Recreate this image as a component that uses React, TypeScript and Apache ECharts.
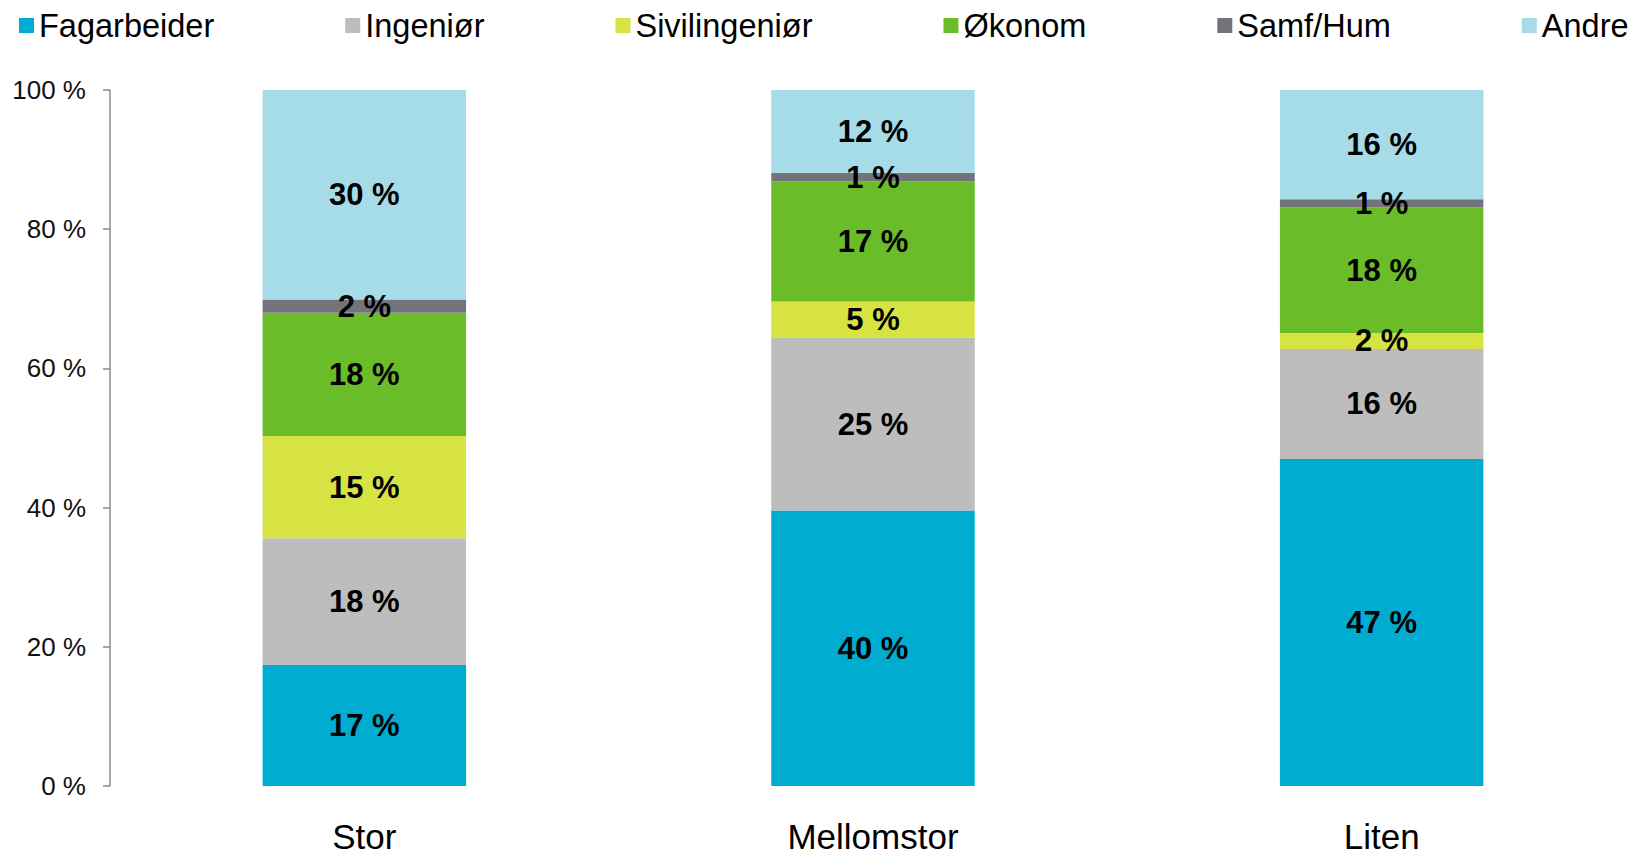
import React, { useEffect, useRef } from "react";
import * as echarts from "echarts";

const categories = ["Stor", "Mellomstor", "Liten"];
const seriesNames = ["Fagarbeider", "Ingeniør", "Sivilingeniør", "Økonom", "Samf/Hum", "Andre"];
const fagarbeider = [17.4, 39.6, 47.0];
const ingenior = [18.2, 24.8, 15.8];
const sivilingenior = [14.7, 5.2, 2.3];
const okonom = [17.7, 17.3, 18.0];
const samfHum = [1.9, 1.2, 1.2];
const andre = [30.1, 11.9, 15.7];
const yTicks = { min: 0, max: 100, interval: 20 };

const colors = ["#00ADD1", "#BDBDBD", "#D7E243", "#6ABD28", "#737479", "#A6DCE8"];
const seriesData = [fagarbeider, ingenior, sivilingenior, okonom, samfHum, andre];

const FONT = "'Liberation Sans', Arial, Helvetica, sans-serif";

export default function App() {
  const ref = useRef<HTMLDivElement>(null);
  useEffect(() => {
    if (!ref.current) return;
    const chart = echarts.init(ref.current, null, { renderer: "svg" });
    chart.setOption({
      animation: false,
      backgroundColor: "#ffffff",
      textStyle: { fontFamily: FONT },
      legend: {
        left: 14,
        top: 4,
        width: 1800,
        itemWidth: 15,
        itemHeight: 15,
        itemGap: 131,
        icon: "rect",
        data: seriesNames,
        textStyle: { fontFamily: FONT, fontSize: 32.5, color: "#000" },
      },
      grid: {
        left: 110,
        top: 90,
        bottom: 71,
        width: 1526,
        containLabel: false,
        outerBoundsMode: "none",
      },
      xAxis: {
        type: "category",
        data: categories,
        axisLine: { show: false },
        axisTick: { show: false },
        axisLabel: {
          fontFamily: FONT,
          fontSize: 35,
          lineHeight: 35,
          color: "#000",
          margin: 33,
        },
      },
      yAxis: {
        type: "value",
        min: yTicks.min,
        max: yTicks.max,
        interval: yTicks.interval,
        splitLine: { show: false },
        axisLine: { show: true, lineStyle: { color: "#8a8a8a", width: 1.5 } },
        axisTick: { show: true, length: 7, lineStyle: { color: "#8a8a8a", width: 1.5 } },
        axisLabel: {
          fontFamily: FONT,
          fontSize: 26,
          color: "#111",
          margin: 24,
          formatter: (v: number) => `${v} %`,
        },
      },
      series: seriesNames.map((name, i) => ({
        name,
        type: "bar",
        stack: "total",
        barWidth: "40%",
        data: seriesData[i],
        itemStyle: { color: colors[i] },
        label: {
          show: true,
          position: "inside",
          fontFamily: FONT,
          fontSize: 31,
          fontWeight: "bold",
          color: "#000",
          formatter: (p: any) => `${Math.round(p.value)} %`,
        },
      })),
    });
    return () => chart.dispose();
  }, []);
  return (
    <div
      ref={ref}
      style={{ position: "fixed", left: 0, top: 0, width: 1632, height: 857 }}
    />
  );
}
